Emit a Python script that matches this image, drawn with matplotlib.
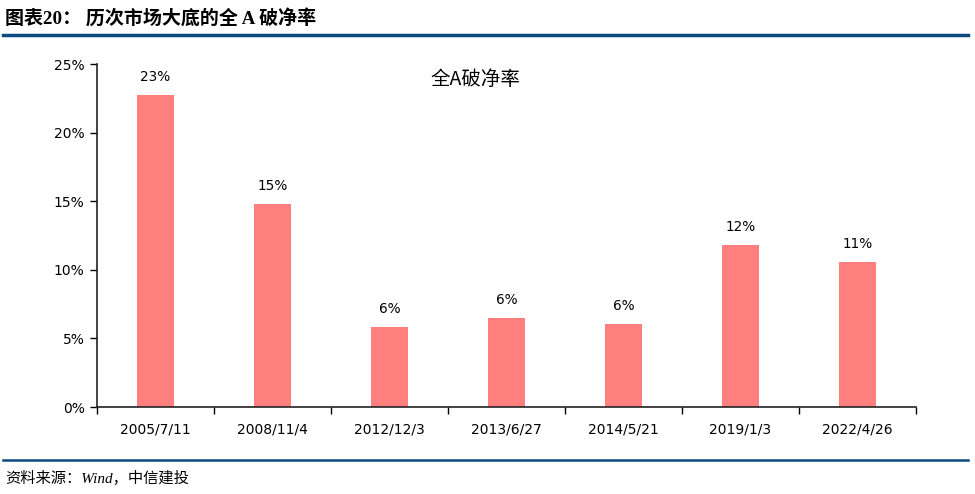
import matplotlib.pyplot as plt
from matplotlib.ticker import FuncFormatter

dates = ['2005/7/11', '2008/11/4', '2012/12/3', '2013/6/27', '2014/5/21', '2019/1/3', '2022/4/26']
ratio = [0.2275, 0.148, 0.0583, 0.0648, 0.0605, 0.118, 0.1057]
labels = ['23%', '15%', '6%', '6%', '6%', '12%', '11%']

cjk = ['Noto Sans CJK SC', 'DejaVu Sans']
num = ['DejaVu Sans', 'Noto Sans CJK SC']
serif_cjk = ['Liberation Serif', 'Noto Sans CJK SC']

fig = plt.figure(figsize=(9.75, 4.94), dpi=100)
ax = fig.add_axes([0.0995, 0.176, 0.84, 0.6944])

x = list(range(len(dates)))
ax.bar(x, ratio, width=0.32, color='#FF7F7F')
for xi, v, lab in zip(x, ratio, labels):
    ax.text(xi, v + 0.008, lab, ha='center', va='bottom', fontsize=9.8, family=num)

ax.set_xlim(-0.5, len(dates) - 0.5)
ax.set_ylim(0, 0.25)
ax.set_yticks([0, 0.05, 0.10, 0.15, 0.20, 0.25])
ax.yaxis.set_major_formatter(FuncFormatter(lambda v, p: f'{v*100:.0f}%'))
ax.set_xticks(x)
ax.set_xticklabels(dates)
ax.set_xticks([i + 0.5 for i in range(-1, len(dates))], minor=True)
ax.tick_params(axis='x', which='major', length=0, pad=11, labelsize=10)
ax.tick_params(axis='x', which='minor', length=5, width=1, direction='out')
ax.tick_params(axis='y', length=5, width=1, labelsize=10, pad=4)
for lab in ax.get_xticklabels() + ax.get_yticklabels():
    lab.set_family(num)
for s in ['top', 'right']:
    ax.spines[s].set_visible(False)
for s in ['left', 'bottom']:
    ax.spines[s].set_linewidth(1.2)
    ax.spines[s].set_color('#222222')

ax.text(0.462, 0.955, '全A破净率', transform=ax.transAxes, ha='center', va='center',
        fontsize=14, family=cjk)

# title / source
fig.text(0.005, 0.962, '图表20： 历次市场大底的全 A 破净率', ha='left', va='center',
         fontsize=13.7, fontweight='bold', family=serif_cjk)
fig.add_artist(plt.Line2D([0.003, 0.993], [0.929, 0.929], color='#0B4A7E', linewidth=2.5,
                          transform=fig.transFigure))
fig.add_artist(plt.Line2D([0.003, 0.993], [0.068, 0.068], color='#0B4A7E', linewidth=1.8,
                          transform=fig.transFigure))
fig.text(0.005, 0.032, '资料来源：Wind，中信建投', ha='left', va='center',
         fontsize=11, style='italic', family=serif_cjk)

fig.savefig('out.png', dpi=100)
